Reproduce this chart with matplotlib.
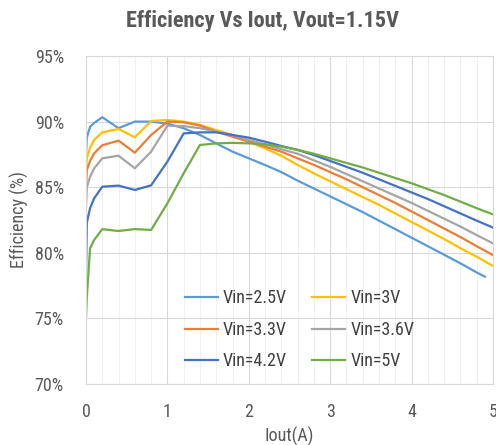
import matplotlib
matplotlib.use("Agg")
import matplotlib.pyplot as plt
from matplotlib import font_manager
from matplotlib.ticker import MultipleLocator, FuncFormatter

# ---------------- data ----------------
iout = [0.0, 0.01, 0.05, 0.1, 0.2, 0.4, 0.6, 0.8, 1.0, 1.2, 1.4, 1.6, 1.8, 2.0,
        2.2, 2.4, 2.6, 2.8, 3.0, 3.2, 3.4, 3.6, 3.8, 4.0, 4.2, 4.4, 4.6, 4.8, 5.0]
iout_25 = iout[:-1] + [4.9]

eff_25 = [87.5, 88.8, 89.6, 89.9, 90.33, 89.5, 90.0, 90.0, 89.85, 89.49, 88.98, 88.34,
          87.71, 87.2, 86.69, 86.15, 85.5, 84.9, 84.3, 83.7, 83.1, 82.45, 81.8, 81.15,
          80.5, 79.85, 79.2, 78.5, 78.18]
eff_30 = [86.0, 87.2, 88.0, 88.6, 89.18, 89.44, 88.8, 90.05, 90.12, 90.0, 89.74, 89.36,
          88.98, 88.47, 87.96, 87.4, 86.7, 86.05, 85.45, 84.85, 84.25, 83.65, 83.0, 82.35,
          81.7, 81.05, 80.35, 79.7, 79.0]
eff_33 = [84.8, 86.3, 87.0, 87.58, 88.2, 88.55, 87.63, 88.98, 90.0, 89.95, 89.7, 89.23,
          88.85, 88.47, 88.09, 87.71, 87.2, 86.7, 86.15, 85.6, 85.0, 84.4, 83.8, 83.15,
          82.5, 81.85, 81.2, 80.5, 79.83]
eff_36 = [83.5, 85.0, 85.8, 86.44, 87.2, 87.4, 86.44, 87.71, 89.69, 89.65, 89.5, 89.23,
          88.98, 88.6, 88.27, 87.89, 87.55, 87.05, 86.55, 86.0, 85.45, 84.9, 84.35, 83.8,
          83.2, 82.6, 82.0, 81.35, 80.72]
eff_42 = [78.3, 82.3, 83.4, 84.15, 85.04, 85.12, 84.79, 85.14, 86.95, 89.1, 89.18, 89.18,
          88.98, 88.78, 88.47, 88.14, 87.84, 87.45, 87.0, 86.55, 86.1, 85.6, 85.1, 84.6,
          84.1, 83.55, 83.0, 82.45, 81.92]
eff_50 = [75.1, 76.6, 80.34, 80.98, 81.8, 81.66, 81.81, 81.74, 83.77, 86.06, 88.22, 88.34,
          88.38, 88.34, 88.27, 88.09, 87.84, 87.55, 87.2, 86.85, 86.5, 86.1, 85.7, 85.3,
          84.85, 84.4, 83.9, 83.4, 82.93]

labels = ["Vin=2.5V", "Vin=3V", "Vin=3.3V", "Vin=3.6V", "Vin=4.2V", "Vin=5V"]
title = "Efficiency Vs Iout, Vout=1.15V"
xlabel = "Iout(A)"
ylabel = "Efficiency (%)"

# ---------------- font ----------------
available = {f.name for f in font_manager.fontManager.ttflist}
family = "DejaVu Sans"
for cand in ["Roboto Condensed", "Liberation Sans Narrow", "DejaVu Sans Condensed",
             "Open Sans Condensed", "Liberation Sans"]:
    if cand in available:
        family = cand
        break
plt.rcParams["font.family"] = [family, "DejaVu Sans"]

txt = "#595959"
colors = ["#5B9BD5", "#FFC000", "#ED7D31", "#A5A5A5", "#4472C4", "#70AD47"]

fig = plt.figure(figsize=(4.96, 4.45), dpi=100)
ax = fig.add_axes([86 / 496, 1 - 384 / 445, 407 / 496, 328 / 445])

series = [(iout_25, eff_25), (iout, eff_30), (iout, eff_33),
          (iout, eff_36), (iout, eff_42), (iout, eff_50)]
handles = []
for (xs, ys), c, lab in zip(series, colors, labels):
    h, = ax.plot(xs, ys, color=c, lw=1.6, label=lab, solid_joinstyle="round")
    handles.append(h)

ax.set_xlim(0, 5)
ax.set_ylim(70, 95)
ax.xaxis.set_major_locator(MultipleLocator(1))
ax.xaxis.set_minor_locator(MultipleLocator(0.2))
ax.yaxis.set_major_locator(MultipleLocator(5))
ax.yaxis.set_major_formatter(FuncFormatter(lambda v, p: f"{v:.0f}%"))
ax.grid(True, which="minor", axis="x", color="#f0f0f0", lw=0.8)
ax.grid(True, which="major", color="#d9d9d9", lw=0.8)
ax.set_axisbelow(True)
for s in ax.spines.values():
    s.set_color("#d9d9d9")
    s.set_linewidth(0.8)
ax.tick_params(which="both", length=0, colors=txt, labelsize=13)
ax.tick_params(axis="x", pad=14)
ax.tick_params(axis="y", pad=16)

ax.set_xlabel(xlabel, color=txt, fontsize=13, labelpad=4)
ax.set_ylabel(ylabel, color=txt, fontsize=13, labelpad=4)
fig.suptitle(title, x=(137 + 387) / 2 / 496, y=1 - 10 / 445, va="top",
             color="#595959", fontsize=16, fontweight="bold")

# row-major order as in the reference (2 columns)
order = [0, 2, 4, 1, 3, 5]
leg = ax.legend([handles[i] for i in order], [labels[i] for i in order],
                ncol=2, frameon=False, loc="center", bbox_to_anchor=(0.525, 0.165),
                fontsize=13, handlelength=1.8, handletextpad=0.3,
                columnspacing=1.4, labelspacing=0.75, labelcolor="#404040")

fig.savefig("out.png", dpi=100)
